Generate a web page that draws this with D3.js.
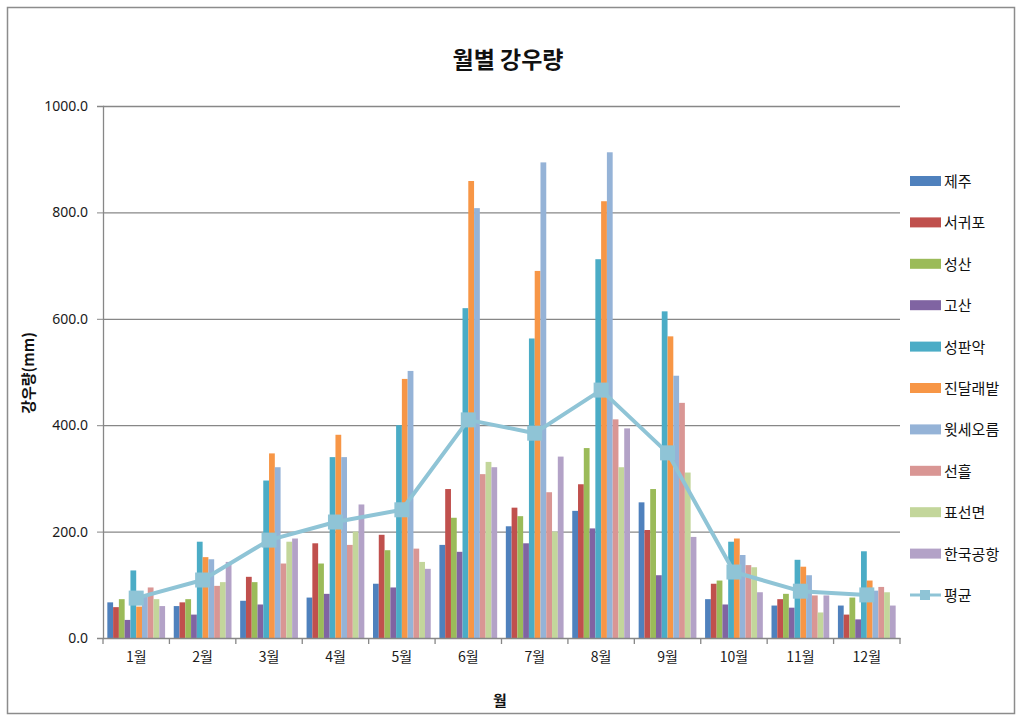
<!DOCTYPE html>
<html><head><meta charset="utf-8">
<script src="https://cdn.jsdelivr.net/npm/d3@7"></script>
<style>
body{margin:0;background:#fff;}
text{font-family:"Noto Sans CJK KR","Noto Sans",sans-serif;}
</style></head>
<body><svg id="c" width="1019" height="720"></svg>
<script>
const months = ["1월","2월","3월","4월","5월","6월","7월","8월","9월","10월","11월","12월"];
const seriesNames = ["제주","서귀포","성산","고산","성판악","진달래밭","윗세오름","선흘","표선면","한국공항"];
const colors = ["#4F81BD","#C0504D","#9BBB59","#8064A2","#4BACC6","#F79646","#95B3D7","#D99694","#C3D69B","#B3A2C7"];
const jeju      = [67, 60, 70, 76, 102, 175, 210, 239, 255, 73, 61, 61];
const seogwipo  = [58, 67, 115, 178, 194, 280, 245, 289, 203, 102, 73, 44];
const seongsan  = [73, 73, 105, 140, 165, 226, 229, 357, 280, 108, 83, 76];
const gosan     = [34, 44, 63, 83, 95, 162, 178, 206, 118, 63, 57, 35];
const seongpanak= [127, 181, 296, 340, 400, 620, 563, 712, 614, 181, 147, 163];
const jindallae = [59, 152, 347, 382, 487, 859, 690, 821, 567, 187, 134, 108];
const witse     = [81, 148, 321, 340, 502, 808, 894, 913, 493, 156, 118, 89];
const seonheul  = [95, 98, 140, 175, 168, 308, 274, 411, 442, 137, 80, 96];
const pyoseon   = [73, 105, 181, 200, 143, 331, 200, 321, 311, 133, 48, 86];
const airport   = [60, 143, 187, 251, 130, 321, 341, 394, 190, 86, 80, 61];
const average   = [75, 109, 184, 218, 241, 410, 385, 466, 348, 124, 88, 81];
const yTicks = [0, 200, 400, 600, 800, 1000];
const seriesValues = [jeju, seogwipo, seongsan, gosan, seongpanak, jindallae, witse, seonheul, pyoseon, airport];

const svg = d3.select("#c");
svg.append("rect").attr("x",7.5).attr("y",7.5).attr("width",1007).attr("height",706)
  .attr("fill","#fff").attr("stroke","#8c8c8c").attr("stroke-width",1.5);

const L=103, R=900, T=106, B=638;
const x0 = d3.scaleBand().domain(months).range([L,R]).padding(0);
const x1 = d3.scaleBand().domain(seriesNames).range([0,x0.bandwidth()]).paddingInner(0).paddingOuter(0.75);
const y = d3.scaleLinear().domain([0,1000]).range([B,T]);

svg.append("g").selectAll("line").data(yTicks.filter(d=>d>0)).join("line")
  .attr("x1",L).attr("x2",R).attr("y1",d=>y(d)+0.5).attr("y2",d=>y(d)+0.5)
  .attr("stroke","#878787").attr("stroke-width",1.3);

const ya = svg.append("g").attr("transform",`translate(${L},0)`)
  .call(d3.axisLeft(y).tickValues(yTicks).tickFormat(d3.format(".1f")).tickSize(6).tickPadding(9));
ya.select(".domain").attr("stroke","#878787").attr("stroke-width",1.3);
ya.selectAll(".tick line").attr("stroke","#878787");
ya.selectAll("text").attr("font-size",14).attr("fill","#1a1a1a").style("font-family","'Noto Sans','Noto Sans CJK KR',sans-serif");

const groups = svg.append("g").selectAll("g").data(months).join("g")
  .attr("transform",d=>`translate(${x0(d)},0)`);
groups.selectAll("rect").data((m,i)=>seriesNames.map((s,k)=>({s,k,v:seriesValues[k][i]}))).join("rect")
  .attr("x",d=>x1(d.s)).attr("width",x1.bandwidth())
  .attr("y",d=>y(d.v)).attr("height",d=>B-y(d.v))
  .attr("fill",d=>colors[d.k]);

const xa = svg.append("g").attr("transform",`translate(0,${B})`)
  .call(d3.axisBottom(x0).tickSize(0).tickPadding(14));
xa.select(".domain").attr("stroke","#878787").attr("stroke-width",1.3);
xa.selectAll("text").attr("font-size",14).attr("fill","#1a1a1a");
svg.append("g").selectAll("line").data(d3.range(months.length+1)).join("line")
  .attr("x1",i=>L+i*x0.step()).attr("x2",i=>L+i*x0.step())
  .attr("y1",B).attr("y2",B+6).attr("stroke","#878787").attr("stroke-width",1.3);

const lineColor = "#8FC4D6";
const line = d3.line().x((d,i)=>x0(months[i])+x0.bandwidth()/2).y(d=>y(d));
svg.append("path").datum(average).attr("d",line).attr("fill","none")
  .attr("stroke",lineColor).attr("stroke-width",4).attr("stroke-linejoin","round");
svg.append("g").selectAll("rect").data(average).join("rect")
  .attr("x",(d,i)=>x0(months[i])+x0.bandwidth()/2-7.5).attr("y",d=>y(d)-7.5)
  .attr("width",15).attr("height",15).attr("fill",lineColor);

svg.append("text").attr("x",508).attr("y",68).attr("text-anchor","middle")
  .attr("font-size",23).attr("font-weight","bold").attr("fill","#111").text("월별 강우량");
svg.append("text").attr("transform","translate(34,373) rotate(-90)").attr("text-anchor","middle")
  .attr("font-size",15).attr("font-weight","bold").attr("fill","#111").text("강우량(mm)");
svg.append("text").attr("x",500).attr("y",706).attr("text-anchor","middle")
  .attr("font-size",15).attr("font-weight","bold").attr("fill","#111").text("월");

const legNames = seriesNames.concat(["평균"]);
const leg = svg.append("g").selectAll("g").data(legNames).join("g")
  .attr("transform",(d,i)=>`translate(910,${181+i*41.4})`);
leg.filter((d,i)=>i<10).append("rect").attr("x",0).attr("y",-5).attr("width",31).attr("height",10)
  .attr("fill",(d,i)=>colors[i]);
const avgLeg = leg.filter((d,i)=>i===10);
avgLeg.append("line").attr("x1",0).attr("x2",31).attr("y1",0).attr("y2",0).attr("stroke",lineColor).attr("stroke-width",3);
avgLeg.append("rect").attr("x",10).attr("y",-5).attr("width",10).attr("height",10).attr("fill",lineColor);
leg.append("text").attr("x",34).attr("y",6).attr("font-size",15).attr("fill","#111").text(d=>d);
</script></body></html>
